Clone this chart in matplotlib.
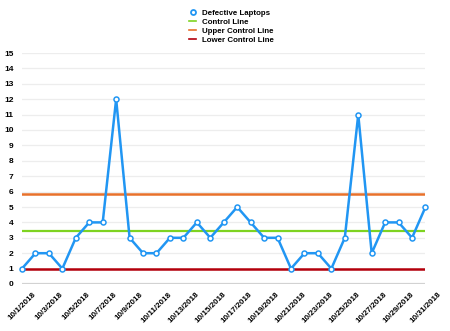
import numpy as np
import matplotlib.pyplot as plt
from matplotlib.lines import Line2D

plt.rcParams['font.family'] = ['Liberation Sans', 'DejaVu Sans']

days = ['10/%d/2018' % d for d in range(1, 32)]
defects = [1, 2, 2, 1, 3, 4, 4, 12, 3, 2,
           2, 3, 3, 4, 3, 4, 5, 4, 3, 3,
           1, 2, 2, 1, 3, 11, 2, 4, 4, 3, 5]
upper_limit = 5.85
lower_limit = 1.0
y_ticks = list(range(0, 16))

blue = '#2196f3'
green = '#7ed321'
orange = '#e8712b'
red = '#b3000c'

control = np.mean(defects)
x = np.arange(len(days))

fig = plt.figure(figsize=(4.5, 3.31), dpi=100)
ax = fig.add_axes([22 / 450, 1 - 284 / 331, 403.5 / 450, 231 / 331])

for t in y_ticks[1:]:
    ax.axhline(t, color='#ededed', lw=0.9, zorder=0)
ax.axhline(0, color='#d2d2d2', lw=1.6, zorder=0)

ax.plot(x, [control] * len(x), color=green, lw=1.6, zorder=2)
ax.plot(x, [upper_limit] * len(x), color=orange, lw=1.8, zorder=2)
ax.plot(x, [lower_limit] * len(x), color=red, lw=1.8, zorder=2)
ax.plot(x, defects, color=blue, lw=1.8, marker='o', ms=3.6,
        mfc='white', mec=blue, mew=1.1, zorder=3, clip_on=False)

ax.set_xlim(0, len(x) - 1)
ax.set_ylim(0, 15)
ax.set_yticks(y_ticks)
ax.set_yticklabels([str(t) for t in y_ticks], fontsize=6, fontweight='bold')
ax.set_xticks(x[::2])
ax.set_xticklabels(days[::2], fontsize=5.8, fontweight='bold',
                   rotation=45, ha='center', va='top')
ax.tick_params(axis='both', length=0)
ax.tick_params(axis='y', pad=6)
ax.tick_params(axis='x', pad=5)
for s in ax.spines.values():
    s.set_visible(False)

handles = [
    Line2D([], [], color=blue, marker='o', ms=3.6, mfc='white', mew=1.3, lw=0),
    Line2D([], [], color=green, lw=1.2),
    Line2D([], [], color=orange, lw=1.2),
    Line2D([], [], color=red, lw=1.2),
]
labels = ['Defective Laptops', 'Control Line', 'Upper Control Line',
          'Lower Control Line']
fig.legend(handles, labels, loc='upper left', bbox_to_anchor=(189 / 450, 1 - 9.5 / 331),
           frameon=False, prop={'weight': 'bold', 'size': 5.7},
           handlelength=0.9, handletextpad=0.75, labelspacing=0.18,
           borderaxespad=0, borderpad=0)

fig.savefig('out.png', dpi=100)
